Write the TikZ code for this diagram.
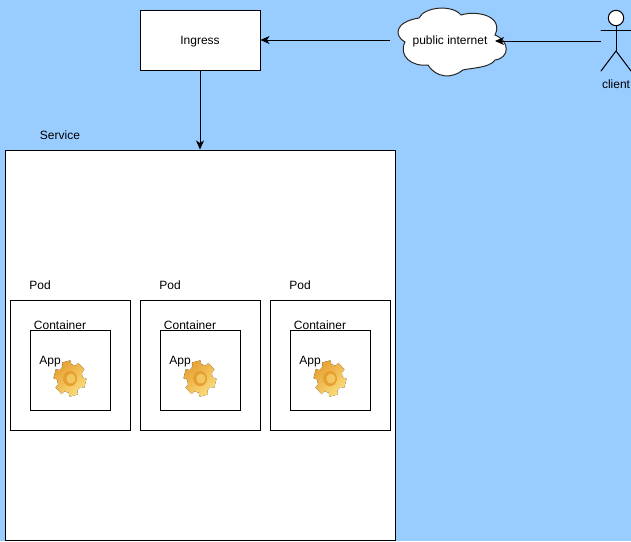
\documentclass[tikz,border=0pt]{standalone}
\usepackage{fontspec}
\setmainfont{Liberation Sans}
\usetikzlibrary{arrows.meta, positioning}
\definecolor{skyback}{RGB}{153,204,255}
\definecolor{gearlight}{RGB}{252,222,125}
\definecolor{geardark}{RGB}{230,160,50}
\tikzset{
    box/.style={draw=black, fill=white, line width=1pt, inner sep=0pt},
    lbl/.style={inner sep=0pt, text height=10pt, text depth=2pt, font=\fontsize{12}{14}\selectfont},
    link/.style={-{Stealth[length=9pt, width=8pt, inset=2.5pt]}, line width=1pt},
    limb/.style={line width=1pt, line cap=round},
    gear/.pic={
        \begin{scope}[yscale=1.1, rotate=14]
            \fill[left color=geardark, right color=gearlight, shading angle=40]
                (0:12.5)
                \foreach \a in {0,60,...,300} {
                    -- ({\a+10}:13) -- ({\a+15}:16.5) -- ({\a+45}:16.5) -- ({\a+50}:13)
                } -- cycle;
            \fill[geardark] (0,0) circle (7);
            \fill[gearlight!60!geardark] (0.9,0.4) circle (4.5);
        \end{scope}
    }
}
\begin{document}
\begin{tikzpicture}[x=1pt, y=-1pt]
    \useasboundingbox (0,0) rectangle (631,541);
    \fill[skyback] (0,0) rectangle (631,541);

    % Top row
    \node[box, lbl, minimum width=120pt, minimum height=60pt] at (200,40) (ingress) {Ingress};
    \draw[fill=white, line width=1pt, draw=black!85]
        (405,42) .. controls (394,36) and (394,22) .. (419,18)
        .. controls (424,7) and (452,4) .. (461,15)
        .. controls (477,10) and (504,16) .. (495,35)
        .. controls (510,41) and (510,58) .. (495,60)
        .. controls (490,68) and (470,68) .. (463,70)
        .. controls (452,79) and (436,78) .. (428,65)
        .. controls (412,67) and (398,56) .. (405,42) -- cycle;
    \node[lbl] at (450,40) (internet) {public internet};
    \coordinate (cloudin) at (495,41);
    \coordinate (cloudout) at (390,40);

    % Client figure
    \coordinate (neck) at (616,26);
    \coordinate (hip) at (616,51);
    \coordinate (hand) at (601,41);
    \draw[limb, fill=white] (616,18) circle (7.7);
    \draw[limb] (neck) -- (hip);
    \draw[limb] (601,30) -- (631,30);
    \draw[limb] (601,71) -- (hip) -- (631,71);
    \node[lbl] at (616,84) (client) {client};

    \draw[link] (hand) -- (cloudin);
    \draw[link] (cloudout) -- (ingress.east);

    % Service
    \node[lbl] at (60,135) (servicelbl) {Service};
    \node[box, minimum width=390pt, minimum height=390pt] at (200,345) (service) {};
    \draw[link] (ingress.south) -- (service.north);

    % Pods
    \foreach \i/\x in {a/70, b/200, c/330} {
        \node[box, minimum width=120pt, minimum height=130pt] at (\x,365) (pod\i) {};
        \node[box, minimum width=80pt, minimum height=80pt] at (\x,370) (cont\i) {};
        \node[lbl] at (\x-30,285) (podlbl\i) {Pod};
        \node[lbl] at (\x-10,325) (contlbl\i) {Container};
        \node[lbl] at (\x-20,360) (app\i) {App};
        \pic at (\x,378.5) {gear};
    }
\end{tikzpicture}
\end{document}
